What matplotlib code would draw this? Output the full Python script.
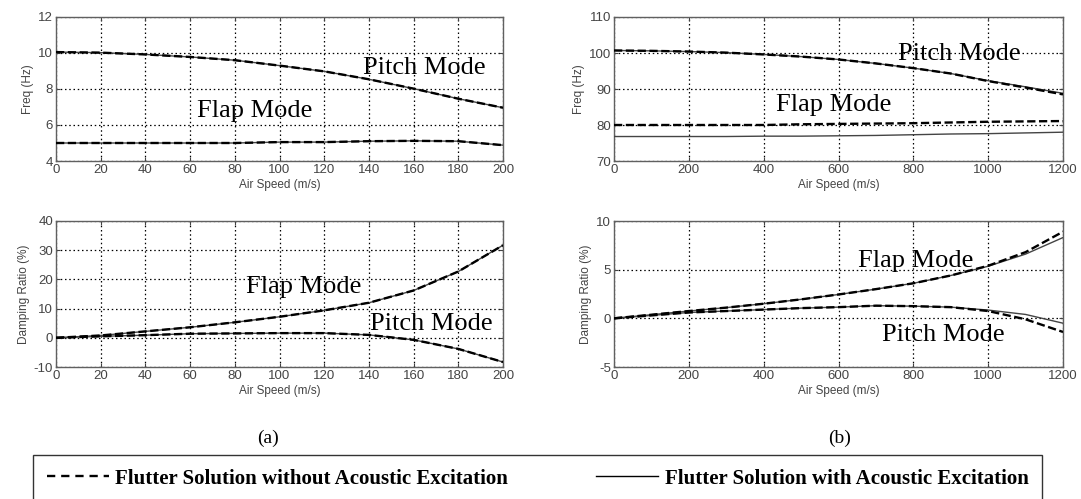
import matplotlib.pyplot as plt
from matplotlib.lines import Line2D

plt.rcParams['axes.unicode_minus'] = False

# (a) low speed case
speed_a = [0, 20, 40, 60, 80, 100, 120, 140, 160, 180, 200]
freq_pitch_a = [10.05, 10.02, 9.92, 9.78, 9.6, 9.3, 8.98, 8.54, 8.02, 7.46, 6.96]
freq_flap_a = [5.0, 5.0, 5.0, 5.0, 5.0, 5.05, 5.05, 5.1, 5.12, 5.1, 4.88]
damp_flap_a = [0, 0.8, 2.2, 3.6, 5.3, 7.2, 9.4, 12.0, 16.2, 22.7, 31.7]
damp_pitch_a = [0, 0.5, 0.9, 1.4, 1.5, 1.6, 1.6, 1.0, -0.7, -3.8, -8.3]

# (b) high speed case
speed_b = [0, 100, 200, 300, 400, 500, 600, 700, 800, 900, 1000, 1100, 1200]
freq_pitch_b = [100.7, 100.6, 100.4, 100.1, 99.6, 99.0, 98.2, 97.1, 95.8, 94.3, 92.2, 90.4, 88.5]
freq_pitch_b_ac = [100.7, 100.6, 100.4, 100.1, 99.6, 99.0, 98.2, 97.1, 95.8, 94.3, 92.3, 90.6, 88.8]
freq_flap_b = [80.0, 80.0, 80.0, 80.0, 80.0, 80.2, 80.3, 80.4, 80.5, 80.7, 80.9, 81.0, 81.1]
freq_flap_b_ac = [76.8, 76.8, 76.8, 76.8, 76.9, 76.9, 77.0, 77.1, 77.3, 77.5, 77.6, 77.8, 78.0]
damp_flap_b = [0, 0.37, 0.75, 1.1, 1.5, 1.95, 2.45, 3.0, 3.6, 4.4, 5.4, 6.8, 8.9]
damp_flap_b_ac = [0, 0.37, 0.75, 1.1, 1.5, 1.95, 2.45, 3.0, 3.6, 4.4, 5.35, 6.6, 8.3]
damp_pitch_b = [0, 0.3, 0.6, 0.75, 0.9, 1.05, 1.15, 1.3, 1.25, 1.15, 0.75, -0.1, -1.4]
damp_pitch_b_ac = [0, 0.3, 0.6, 0.75, 0.9, 1.05, 1.15, 1.3, 1.25, 1.15, 0.85, 0.4, -0.5]

label_dash = 'Flutter Solution without Acoustic Excitation'
label_solid = 'Flutter Solution with Acoustic Excitation'

W, H = 1081, 499
fig = plt.figure(figsize=(W / 100, H / 100), dpi=100)

def box(x0, y0, x1, y1):
    return [x0 / W, 1 - y1 / H, (x1 - x0) / W, (y1 - y0) / H]

serif = 'Liberation Serif'
sans = 'Liberation Sans'
tick_col = '#444444'

def style(ax, xlim, ylim, xticks, yticks, ylabel):
    ax.set_xlim(xlim)
    ax.set_ylim(ylim)
    ax.set_xticks(xticks)
    ax.set_yticks(yticks)
    ax.grid(True, color='k', linestyle=(0, (1.2, 2.2)), linewidth=0.9)
    ax.tick_params(direction='in', length=3, width=0.8, top=True, right=True,
                   labelsize=9.5, colors=tick_col, pad=2)
    for s in ax.spines.values():
        s.set_color('#606060')
        s.set_linewidth(1.0)
    for lab in ax.get_xticklabels() + ax.get_yticklabels():
        lab.set_family(sans)
    ax.set_xlabel('Air Speed (m/s)', fontsize=8.5, family=sans, color=tick_col, labelpad=2)
    ax.set_ylabel(ylabel, fontsize=8.5, family=sans, color=tick_col, labelpad=3)

def curves(ax, x, dashed, solid):
    ax.plot(x, solid, color='#444444', linewidth=1.0, zorder=3)
    ax.plot(x, dashed, color='k', linewidth=1.7, linestyle=(0, (3.5, 1.5)), zorder=4)

def note(ax, x, y, s):
    ax.text(x, y, s, fontsize=19, family=serif, ha='center', va='center', zorder=5)

# top left
ax1 = fig.add_axes(box(56, 17, 503, 161))
curves(ax1, speed_a, freq_pitch_a, freq_pitch_a)
curves(ax1, speed_a, freq_flap_a, freq_flap_a)
style(ax1, (0, 200), (4, 12), range(0, 201, 20), range(4, 13, 2), 'Freq (Hz)')
note(ax1, 164.7, 9.15, 'Pitch Mode')
note(ax1, 88.7, 6.75, 'Flap Mode')

# bottom left
ax2 = fig.add_axes(box(56, 221, 503, 367))
curves(ax2, speed_a, damp_flap_a, damp_flap_a)
curves(ax2, speed_a, damp_pitch_a, damp_pitch_a)
style(ax2, (0, 200), (-10, 40), range(0, 201, 20), range(-10, 41, 10), 'Damping Ratio (%)')
note(ax2, 111, 17.3, 'Flap Mode')
note(ax2, 167.8, 4.6, 'Pitch Mode')

# top right
ax3 = fig.add_axes(box(614, 17, 1063, 161))
curves(ax3, speed_b, freq_pitch_b, freq_pitch_b_ac)
curves(ax3, speed_b, freq_flap_b, freq_flap_b_ac)
style(ax3, (0, 1200), (70, 110), range(0, 1201, 200), range(70, 111, 10), 'Freq (Hz)')
note(ax3, 924, 99.8, 'Pitch Mode')
note(ax3, 588, 85.5, 'Flap Mode')

# bottom right
ax4 = fig.add_axes(box(614, 221, 1063, 367))
curves(ax4, speed_b, damp_flap_b, damp_flap_b_ac)
curves(ax4, speed_b, damp_pitch_b, damp_pitch_b_ac)
style(ax4, (0, 1200), (-5, 10), range(0, 1201, 200), [-5, 0, 5, 10], 'Damping Ratio (%)')
note(ax4, 806, 5.9, 'Flap Mode')
note(ax4, 880, -1.7, 'Pitch Mode')

fig.text(268 / W, 1 - 438 / H, '(a)', fontsize=14, family=serif, ha='center', va='center')
fig.text(840 / W, 1 - 438 / H, '(b)', fontsize=14, family=serif, ha='center', va='center')

handles = [Line2D([], [], color='k', linewidth=1.7, linestyle=(0, (3.5, 2.5))),
           Line2D([], [], color='k', linewidth=1.0)]
leg = fig.legend(handles, [label_dash, label_solid], ncol=2, mode='expand',
                 loc='upper left', bbox_to_anchor=box(33, 455, 1042, 456),
                 prop={'family': serif, 'size': 15, 'weight': 'bold'},
                 handlelength=3.0, handletextpad=0.3, borderaxespad=0, borderpad=0.65,
                 fancybox=False, framealpha=1, edgecolor='#333333')
leg.get_frame().set_linewidth(1.0)

fig.savefig('out.png', dpi=100)
